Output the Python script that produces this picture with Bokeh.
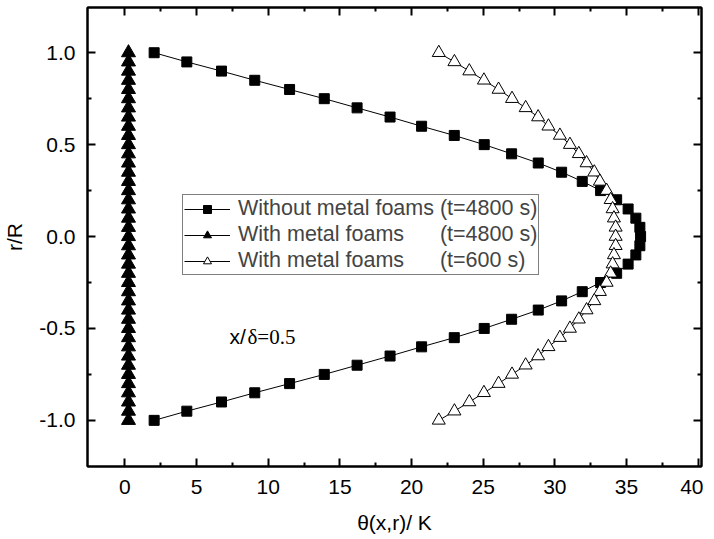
from bokeh.plotting import figure
from bokeh.models import (LinearAxis, FixedTicker, PrintfTickFormatter, Legend,
                          LegendItem, Label, Range1d, ColumnDataSource)
from bokeh.embed import file_html
from bokeh.resources import INLINE

# r/R positions (categories of the profile)
r_vals = [1.0, 0.95, 0.9, 0.85, 0.8, 0.75, 0.7, 0.65, 0.6, 0.55, 0.5,
          0.45, 0.4, 0.35, 0.3, 0.25, 0.2, 0.15, 0.1, 0.05, 0.0,
          -0.05, -0.1, -0.15, -0.2, -0.25, -0.3, -0.35, -0.4, -0.45, -0.5,
          -0.55, -0.6, -0.65, -0.7, -0.75, -0.8, -0.85, -0.9, -0.95, -1.0]

# Without metal foams (t=4800 s)
theta_no_foam = [2.04, 4.32, 6.74, 9.06, 11.49, 13.91, 16.2, 18.5, 20.7, 22.98, 25.07,
                 26.98, 28.84, 30.47, 31.91, 33.19, 34.31, 35.11, 35.65, 35.93, 35.98,
                 35.93, 35.65, 35.11, 34.31, 33.19, 31.91, 30.47, 28.84, 26.98, 25.07,
                 22.98, 20.7, 18.5, 16.2, 13.91, 11.49, 9.06, 6.74, 4.32, 2.04]

# With metal foams (t=4800 s)
theta_foam_4800 = [0.25, 0.25, 0.25, 0.25, 0.25, 0.25, 0.25, 0.25, 0.25, 0.25, 0.25,
                   0.25, 0.25, 0.25, 0.25, 0.25, 0.25, 0.25, 0.25, 0.25, 0.25,
                   0.25, 0.25, 0.25, 0.25, 0.25, 0.25, 0.25, 0.25, 0.25, 0.25,
                   0.25, 0.25, 0.25, 0.25, 0.25, 0.25, 0.25, 0.25, 0.25, 0.25]

# With metal foams (t=600 s)
theta_foam_600 = [21.9, 22.99, 24.03, 25.05, 26.07, 27.01, 27.96, 28.83, 29.55, 30.35, 31.05,
                  31.67, 32.21, 32.75, 33.14, 33.61, 33.89, 34.03, 34.12, 34.24, 34.24,
                  34.24, 34.12, 34.03, 33.89, 33.61, 33.14, 32.75, 32.21, 31.67, 31.05,
                  30.35, 29.55, 28.83, 27.96, 27.01, 26.07, 25.05, 24.03, 22.99, 21.9]

x_ticks = [0, 5, 10, 15, 20, 25, 30, 35, 40]
x_minor = [2.5, 7.5, 12.5, 17.5, 22.5, 27.5, 32.5, 37.5]
y_ticks = [-1.0, -0.5, 0.0, 0.5, 1.0]
y_minor = [-0.75, -0.25, 0.25, 0.75]

labels = ["Without metal foams (t=4800 s)",
          "With metal foams\u00a0\u00a0\u00a0\u00a0\u00a0\u00a0(t=4800 s)",
          "With metal foams\u00a0\u00a0\u00a0\u00a0\u00a0\u00a0(t=600 s)"]

FONT = "Liberation Sans"
FS = "21px"

p = figure(frame_width=614, frame_height=459,
           x_range=Range1d(-2.61, 40.23), y_range=Range1d(-1.251, 1.246),
           output_backend="svg", toolbar_location=None,
           min_border_left=84, min_border_top=7, min_border_right=2, min_border_bottom=0)
p.grid.visible = False
p.outline_line_color = "black"
p.outline_line_width = 2
p.background_fill_color = "white"

src = ColumnDataSource(dict(r=r_vals, a=theta_no_foam, b=theta_foam_4800, c=theta_foam_600))

l1 = p.line("a", "r", source=src, line_color="black", line_width=1)
s1 = p.scatter("a", "r", source=src, marker="square", size=10, fill_color="black", line_color="black")
l2 = p.line("b", "r", source=src, line_color="black", line_width=1)
s2 = p.scatter("b", "r", source=src, marker="triangle", size=14, fill_color="black", line_color="black")
l3 = p.line("c", "r", source=src, line_color="black", line_width=1)
s3 = p.scatter("c", "r", source=src, marker="triangle", size=13, fill_color="white", line_color="black", line_width=1)

xt = FixedTicker(ticks=x_ticks, minor_ticks=x_minor)
yt = FixedTicker(ticks=y_ticks, minor_ticks=y_minor)


def style(ax):
    ax.axis_line_width = 2
    ax.axis_line_color = "black"
    ax.major_tick_in = 8
    ax.major_tick_out = 0
    ax.minor_tick_in = 4
    ax.minor_tick_out = 0
    ax.major_tick_line_width = 2
    ax.minor_tick_line_width = 2
    ax.major_tick_line_color = "black"
    ax.minor_tick_line_color = "black"
    ax.major_label_text_font = FONT
    ax.major_label_text_color = "black"
    ax.major_label_text_font_size = FS


p.xaxis.ticker = xt
p.yaxis.ticker = yt
p.yaxis.formatter = PrintfTickFormatter(format="%.1f")
style(p.xaxis[0])
style(p.yaxis[0])
p.xaxis.axis_label = "\u03b8(x,r)/ K"
p.yaxis.axis_label = "r/R"
for ax in (p.xaxis[0], p.yaxis[0]):
    ax.axis_label_text_font = FONT
    ax.axis_label_text_font_size = FS
    ax.axis_label_text_font_style = "normal"
    ax.axis_label_text_color = "black"
p.xaxis.major_label_standoff = 13
p.xaxis.axis_label_standoff = 14
p.yaxis.major_label_standoff = 12
p.yaxis.axis_label_standoff = 10

top = LinearAxis(ticker=xt)
style(top)
top.major_label_overrides = {t: "" for t in x_ticks}
top.major_label_standoff = 0
p.add_layout(top, "above")
right = LinearAxis(ticker=yt)
style(right)
right.major_label_overrides = {t: "" for t in y_ticks}
right.major_label_standoff = 0
p.add_layout(right, "right")

legend = Legend(items=[LegendItem(label=labels[0], renderers=[l1, s1]),
                       LegendItem(label=labels[1], renderers=[l2, s2]),
                       LegendItem(label=labels[2], renderers=[l3, s3])],
                location=(95, 191))
legend.label_text_font = FONT
legend.label_text_font_size = "21.5px"
legend.glyph_width = 46
legend.glyph_height = 20
legend.label_height = 20
legend.spacing = 1
legend.padding = 1
legend.margin = 0
legend.label_standoff = 8
legend.border_line_color = "black"
legend.border_line_width = 1
legend.background_fill_alpha = 1
p.add_layout(legend, "center")

p.add_layout(Label(x=7.3, y=-0.545, text="x/", text_font=FONT, text_font_size="21px",
                   text_color="black", text_baseline="alphabetic"))
p.add_layout(Label(x=8.55, y=-0.545, text="\u03b4=0.5", text_font="Liberation Serif",
                   text_font_size="21px", text_color="black", text_baseline="alphabetic"))

open("out.html", "w").write(file_html(p, INLINE))
